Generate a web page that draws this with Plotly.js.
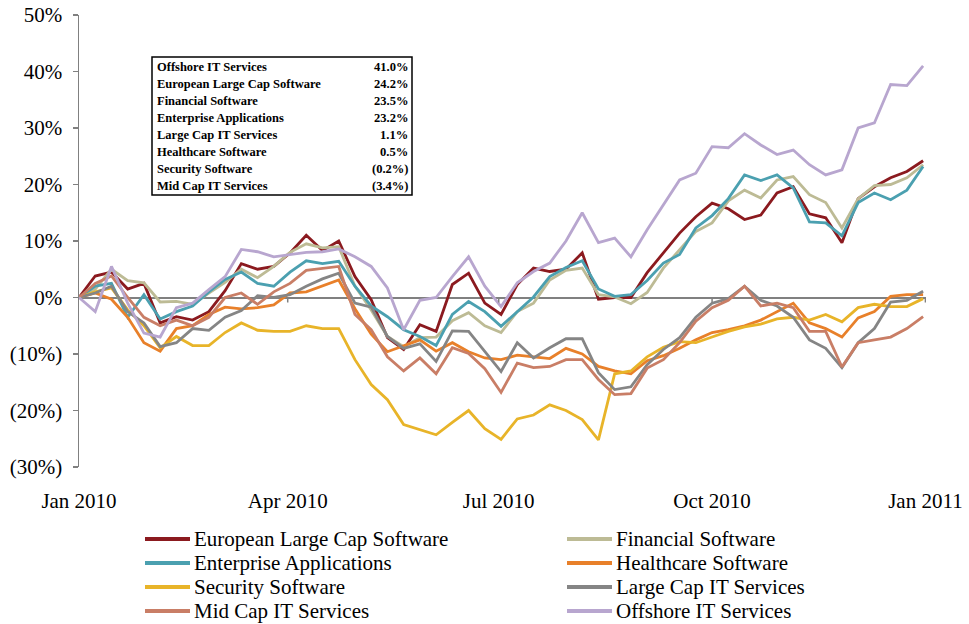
<!DOCTYPE html>
<html>
<head>
<meta charset="utf-8">
<script src="https://cdn.plot.ly/plotly-3.0.1.min.js"></script>
<style>
  html, body { margin: 0; padding: 0; background: #fff; }
  #grafica { width: 969px; height: 624px; }
</style>
</head>
<body>
<div id="grafica"></div>
<script>
// Fechas semanales (viernes) de 2010
const fechas = [
  '2010-01-01', '2010-01-08', '2010-01-15', '2010-01-22', '2010-01-29',
  '2010-02-05', '2010-02-12', '2010-02-19', '2010-02-26',
  '2010-03-05', '2010-03-12', '2010-03-19', '2010-03-26',
  '2010-04-02', '2010-04-09', '2010-04-16', '2010-04-23', '2010-04-30',
  '2010-05-07', '2010-05-14', '2010-05-21', '2010-05-28',
  '2010-06-04', '2010-06-11', '2010-06-18', '2010-06-25',
  '2010-07-02', '2010-07-09', '2010-07-16', '2010-07-23', '2010-07-30',
  '2010-08-06', '2010-08-13', '2010-08-20', '2010-08-27',
  '2010-09-03', '2010-09-10', '2010-09-17', '2010-09-24',
  '2010-10-01', '2010-10-08', '2010-10-15', '2010-10-22', '2010-10-29',
  '2010-11-05', '2010-11-12', '2010-11-19', '2010-11-26',
  '2010-12-03', '2010-12-10', '2010-12-17', '2010-12-24', '2010-12-31'
];

// Rentabilidad acumulada (%) de cada indice
const europeanLargeCap = [0, 3.8, 4.5, 1.5, 2.5, -4.5, -3.4, -4, -2.5, 1.2, 6, 5, 5.5, 7.9, 11, 8.3, 10, 3.7, -0.4, -7.1, -9.2, -4.8, -6, 2.3, 4.3,
  -1, -3, 2.3, 5.2, 4.6, 5, 7.9, -0.3, 0, 0, 4.4, 7.9, 11.4, 14.3, 16.7, 15.7, 13.8, 14.6, 18.5, 19.6, 14.8, 14.1, 9.7, 17.5, 19.6, 21.2, 22.3, 24.2];
const financialSoftware = [0, 1.5, 5, 3, 2.6, -0.8, -0.7, -1.2, 0.8, 2.7, 5, 3.5, 5.5, 8, 9.5, 8.8, 9, 2, -2.2, -6.9, -8.7, -7.1, -7, -4.1, -2.7,
  -5, -6.2, -2.5, -1, 3.1, 4.8, 5.2, 0.5, 0.1, -1.1, 0.9, 5.2, 8.5, 11.7, 13.2, 17.1, 19, 17.6, 20.8, 21.4, 18.2, 16.8, 12.3, 17.5, 19.8, 20, 21.2, 23.5];
const enterpriseApps = [0, 2, 2.5, -3.5, 0.5, -3.8, -2.5, -1.5, 1, 3.2, 4.5, 2.5, 2, 4.5, 6.5, 6, 6.4, 2, -1.5, -3.4, -5.7, -6.9, -8.5, -3, -0.7,
  -2.5, -5.1, -2.5, 0.1, 3.7, 5.3, 6.5, 1.5, 0.2, 0.5, 3, 6.1, 7.6, 12.3, 14.5, 17.5, 21.7, 20.7, 21.7, 19.4, 13.4, 13.2, 10.9, 16.8, 18.5, 17.3, 19, 23.2];
const healthcareSoftware = [0, 0.8, -0.3, -3.5, -8, -9.5, -5.5, -5, -3, -1.7, -2, -1.8, -1.3, 0.8, 1, 2, 3.1, -2, -6.5, -9.6, -8.5, -7.5, -9.5, -8, -9.6,
  -10.7, -11, -10.2, -10.5, -10.8, -9, -10, -12.2, -13, -13.5, -11.2, -10.3, -9, -7.5, -6.2, -5.7, -5, -4, -2.5, -1, -4.5, -5.5, -7, -3.6, -2.5, 0.2, 0.5, 0.5];
const securitySoftware = [0, 1, 1.7, -2.2, -5, -8.9, -6.9, -8.5, -8.5, -6.2, -4.5, -5.8, -6, -6, -5, -5.5, -5.5, -11, -15.4, -18.1, -22.5, -23.4, -24.3, -22.1, -20,
  -23.2, -25.1, -21.5, -20.8, -19, -20, -21.6, -25.2, -13.5, -13, -10.5, -8.8, -7.8, -8, -7, -6, -5.2, -4.7, -3.8, -3.5, -4, -3, -4.3, -1.8, -1.2, -1.6, -1.6, -0.2];
const largeCapIT = [0, 0.8, 2, -2.5, -4.5, -8.7, -8, -5.5, -5.8, -3.5, -2.3, 0.3, 0, 0.5, 2, 3.3, 4.3, -1, -1.7, -6.9, -9, -8.2, -11.3, -5.9, -6,
  -9.6, -13.1, -8, -10.7, -8.9, -7.3, -7.3, -13.3, -16.3, -15.8, -11.9, -9.2, -7.1, -3.5, -1, -0.2, 2, -0.5, -1.5, -3.5, -7.5, -9, -12.4, -8, -5.5, -0.8, -0.5, 1.1];
const midCapIT = [0, 2.5, 3.8, 0, -3.5, -5, -4, -5, -3.5, 0, 0.8, -1.2, 1, 2.5, 4.8, 5.2, 5.5, -3, -5.7, -10.5, -13, -10.7, -13.5, -8.9, -9.9,
  -12.6, -16.8, -11.6, -12.4, -12.2, -11, -11, -14.5, -17.2, -17, -12.5, -11, -8, -4.2, -1.8, -0.5, 2, -1.5, -1, -1.8, -6, -6, -12.3, -8, -7.5, -7, -5.5, -3.4];
const offshoreIT = [0, -2.5, 5.5, -1, -6.3, -7, -1.8, -1, 1.4, 3.7, 8.5, 8.1, 7.2, 7.6, 8, 8.1, 8.6, 7.2, 5.5, 1.7, -5.7, -0.5, 0, 3.7, 7.2,
  2, -1.6, 2.6, 4.6, 6.1, 10, 15, 9.7, 10.5, 7.2, 12, 16.4, 20.8, 22, 26.7, 26.5, 29, 27, 25.3, 26.1, 23.5, 21.7, 22.6, 30, 30.9, 37.7, 37.5, 41.0];

const nombres = ['European Large Cap Software', 'Financial Software', 'Enterprise Applications', 'Healthcare Software',
  'Security Software', 'Large Cap IT Services', 'Mid Cap IT Services', 'Offshore IT Services'];

// Tabla de rentabilidad anual
const tablaNombres = ['Offshore IT Services', 'European Large Cap Software', 'Financial Software', 'Enterprise Applications',
  'Large Cap IT Services', 'Healthcare Software', 'Security Software', 'Mid Cap IT Services'];
const tablaValores = ['41.0%', '24.2%', '23.5%', '23.2%', '1.1%', '0.5%', '(0.2%)', '(3.4%)'];

const yTickVals = [-30, -20, -10, 0, 10, 20, 30, 40, 50];
const yTickText = ['(30%)', '(20%)', '(10%)', '0%', '10%', '20%', '30%', '40%', '50%'];
const xTickVals = ['2010-01-01', '2010-04-01', '2010-07-01', '2010-10-01', '2011-01-01'];
const xTickText = ['Jan 2010', 'Apr 2010', 'Jul 2010', 'Oct 2010', 'Jan 2011'];

const valores = [europeanLargeCap, financialSoftware, enterpriseApps, healthcareSoftware,
  securitySoftware, largeCapIT, midCapIT, offshoreIT];
const colores = ['#8b1a1f', '#bdbb95', '#4ba0b0', '#e8802a', '#e8b429', '#858585', '#c97e66', '#b8a6cf'];

// Area del grafico en pixeles
const L = 79, T = 15, W = 847, H = 452;
const px = p => (p - L) / W;
const py = p => (T + H - p) / H;

const serif = 'Liberation Serif, Times New Roman, serif';

const trazos = valores.map((v, i) => ({
  x: fechas,
  y: v,
  type: 'scatter',
  mode: 'lines',
  name: nombres[i],
  line: { color: colores[i], width: 2.8 },
  hoverinfo: 'skip',
  showlegend: false
}));

const shapes = [];
const annotations = [];

// Recuadro de la tabla
shapes.push({
  type: 'rect', xref: 'paper', yref: 'paper',
  x0: px(152), x1: px(412), y0: py(195), y1: py(57),
  line: { color: '#000', width: 1.5 }, fillcolor: '#fff'
});
tablaNombres.forEach((n, i) => {
  const yy = py(67 + 17 * i);
  annotations.push({
    xref: 'paper', yref: 'paper', x: px(155), y: yy, xanchor: 'left', yanchor: 'middle',
    text: '<b>' + n + '</b>', showarrow: false, font: { family: serif, size: 12.5, color: '#000' }
  });
  annotations.push({
    xref: 'paper', yref: 'paper', x: px(410), y: yy, xanchor: 'right', yanchor: 'middle',
    text: '<b>' + tablaValores[i] + '</b>', showarrow: false, font: { family: serif, size: 12.5, color: '#000' }
  });
});

// Marcas pequenas sobre el eje en 0%
xTickVals.slice(1).forEach(d => {
  shapes.push({
    type: 'line', xref: 'x', yref: 'y', ysizemode: 'pixel', yanchor: 0,
    x0: d, x1: d, y0: 0, y1: -5,
    line: { color: '#808080', width: 1.5 }
  });
});

// Leyenda en dos columnas
nombres.forEach((n, i) => {
  const col = i % 2, fila = Math.floor(i / 2);
  const x0 = col === 0 ? 145 : 567;
  const yy = py(539 + 24 * fila);
  shapes.push({
    type: 'line', xref: 'paper', yref: 'paper',
    x0: px(x0), x1: px(x0 + 45), y0: yy, y1: yy,
    line: { color: colores[i], width: 4 }
  });
  annotations.push({
    xref: 'paper', yref: 'paper', x: px(x0 + 47), y: yy, xanchor: 'left', yanchor: 'middle',
    text: n, showarrow: false, font: { family: serif, size: 21, color: '#000' }
  });
});

const layout = {
  width: 969,
  height: 624,
  margin: { l: L, r: 969 - L - W, t: T, b: 624 - T - H },
  paper_bgcolor: '#fff',
  plot_bgcolor: '#fff',
  showlegend: false,
  xaxis: {
    type: 'date',
    range: ['2010-01-01', '2011-01-01 06:00'],
    tickvals: xTickVals,
    ticktext: xTickText,
    ticks: '',
    showline: false,
    showgrid: false,
    zeroline: false,
    ticklabelstandoff: 19,
    tickfont: { family: serif, size: 21, color: '#000' },
    fixedrange: true
  },
  yaxis: {
    range: [-30, 50],
    tickvals: yTickVals,
    ticktext: yTickText,
    ticks: 'outside',
    ticklen: 5,
    tickwidth: 1.5,
    tickcolor: '#808080',
    showline: true,
    linecolor: '#808080',
    linewidth: 1.5,
    showgrid: false,
    zeroline: true,
    zerolinecolor: '#808080',
    zerolinewidth: 2,
    ticklabelstandoff: 6,
    tickfont: { family: serif, size: 21, color: '#000' },
    fixedrange: true
  },
  shapes: shapes,
  annotations: annotations
};

Plotly.newPlot('grafica', trazos, layout, { staticPlot: true, displayModeBar: false });
</script>
</body>
</html>
